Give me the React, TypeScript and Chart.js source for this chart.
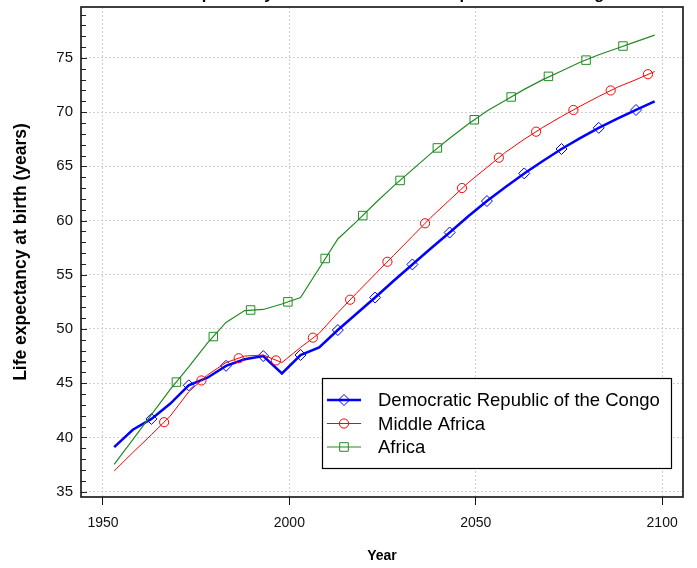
import React, { useEffect, useRef } from 'react';
import { Chart, registerables } from 'chart.js';

Chart.register(...registerables);

// ---------- data ----------
const seriesNames = ['Democratic Republic of the Congo', 'Middle Africa', 'Africa'];

const years = [
  1953, 1958, 1963, 1968, 1973, 1978, 1983, 1988, 1993, 1998,
  2003, 2008, 2013, 2018, 2023, 2028, 2033, 2038, 2043, 2048,
  2053, 2058, 2063, 2068, 2073, 2078, 2083, 2088, 2093, 2098,
];

const drcValues = [
  39.1, 40.7, 41.7, 43.1, 44.8, 45.5, 46.6, 47.2, 47.5, 45.9,
  47.6, 48.3, 49.9, 51.4, 52.9, 54.45, 55.95, 57.45, 58.9, 60.4,
  61.8, 63.1, 64.35, 65.5, 66.6, 67.6, 68.55, 69.4, 70.2, 71.0,
];

const middleAfricaValues = [
  36.9, 38.6, 40.25, 41.95, 44.2, 45.75, 46.9, 47.5, 47.6, 46.9,
  48.3, 49.6, 51.5, 53.3, 55.05, 56.8, 58.55, 60.3, 61.9, 63.5,
  64.9, 66.3, 67.5, 68.6, 69.6, 70.55, 71.45, 72.3, 73.0, 73.75,
];

const africaValues = [
  37.5, 39.8, 42.1, 44.4, 46.5, 48.7, 50.6, 51.7, 51.8, 52.3,
  52.9, 55.6, 58.3, 59.9, 61.6, 63.2, 64.7, 66.2, 67.6, 68.9,
  70.1, 71.1, 72.1, 73.0, 73.8, 74.6, 75.3, 75.9, 76.5, 77.1,
];

// marker positions (staggered along each line)
const drcMarkerYears = [1963, 1973, 1983, 1993, 2003, 2013, 2023, 2033, 2043, 2053, 2063, 2073, 2083, 2093];
const drcMarkerValues = [41.7, 44.8, 46.6, 47.5, 47.6, 49.9, 52.9, 55.95, 58.9, 61.8, 64.35, 66.6, 68.55, 70.2];

const middleAfricaMarkerYears = [1966.4, 1976.4, 1986.4, 1996.4, 2006.3, 2016.3, 2026.3, 2036.4, 2046.3, 2056.2, 2066.2, 2076.2, 2086.2, 2096.2];
const middleAfricaMarkerValues = [41.4, 45.25, 47.3, 47.1, 49.2, 52.7, 56.2, 59.75, 63.0, 65.8, 68.2, 70.2, 72.0, 73.5];

const africaMarkerYears = [1969.7, 1979.6, 1989.6, 1999.6, 2009.6, 2019.7, 2029.7, 2039.7, 2049.6, 2059.5, 2069.5, 2079.6, 2089.5];
const africaMarkerValues = [45.1, 49.3, 51.75, 52.5, 56.5, 60.46, 63.7, 66.7, 69.3, 71.4, 73.3, 74.8, 76.1];

const xTickValues = [1950, 2000, 2050, 2100];
const yTickValues = [35, 40, 45, 50, 55, 60, 65, 70, 75];

const titleText = 'Life expectancy at birth: Democratic Republic of the Congo';
const yAxisTitle = 'Life expectancy at birth (years)';
const xAxisTitle = 'Year';

// ---------- styles ----------
const FONT = '"Liberation Sans", Arial, Helvetica, sans-serif';
const colors = ['#0000FF', '#FF0000', '#228B22'];
const lineWidths = [2.5, 1, 1.2];
const markerStyles = ['rectRot', 'circle', 'rect'];
const markerRadii = [5.5, 4.6, 6];

const toPoints = (xs: number[], ys: number[]) => xs.map((x, i) => ({ x, y: ys[i] }));

function drawMarker(ctx: CanvasRenderingContext2D, kind: number, x: number, y: number) {
  ctx.beginPath();
  if (kind === 0) {
    const r = 5.5;
    ctx.moveTo(x - r, y);
    ctx.lineTo(x, y - r);
    ctx.lineTo(x + r, y);
    ctx.lineTo(x, y + r);
    ctx.closePath();
  } else if (kind === 1) {
    ctx.arc(x, y, 4.6, 0, Math.PI * 2);
  } else {
    const h = 4.3;
    ctx.rect(x - h, y - h, 2 * h, 2 * h);
  }
  ctx.stroke();
}

const framePlugin = {
  id: 'frameAndMinorTicks',
  afterDatasetsDraw(chart: any) {
    const { ctx, chartArea, scales } = chart;
    const ys = scales.y;
    ctx.save();
    // minor / major ticks inside the left axis
    ctx.strokeStyle = '#222';
    ctx.lineWidth = 1;
    for (let v = Math.ceil(ys.min); v <= Math.floor(ys.max); v++) {
      const py = Math.round(ys.getPixelForValue(v)) + 0.5;
      ctx.beginPath();
      ctx.moveTo(chartArea.left, py);
      ctx.lineTo(chartArea.left + (v % 5 === 0 ? 6 : 5), py);
      ctx.stroke();
    }
    // frame
    ctx.strokeStyle = '#111';
    ctx.lineWidth = 1.6;
    ctx.strokeRect(chartArea.left, chartArea.top, chartArea.right - chartArea.left, chartArea.bottom - chartArea.top);
    ctx.restore();
  },
  afterDraw(chart: any) {
    const { ctx, chartArea } = chart;
    ctx.save();
    // cut-off main title above the frame
    ctx.fillStyle = '#000';
    ctx.font = `bold 16.5px ${FONT}`;
    ctx.textAlign = 'center';
    ctx.textBaseline = 'alphabetic';
    ctx.fillText(titleText, (chartArea.left + chartArea.right) / 2, -1.5);

    // inset legend
    const bx = chartArea.right - 361;
    const by = chartArea.bottom - 119;
    const bw = 349;
    const bh = 90;
    ctx.fillStyle = '#fff';
    ctx.fillRect(bx, by, bw, bh);
    ctx.strokeStyle = '#000';
    ctx.lineWidth = 1.2;
    ctx.strokeRect(bx + 0.5, by + 0.5, bw, bh);
    ctx.font = `18.5px ${FONT}`;
    ctx.textAlign = 'left';
    ctx.textBaseline = 'middle';
    seriesNames.forEach((name, i) => {
      const y = by + 22 + i * 23.5;
      ctx.strokeStyle = colors[i];
      ctx.lineWidth = lineWidths[i];
      ctx.beginPath();
      ctx.moveTo(bx + 5, y);
      ctx.lineTo(bx + 39, y);
      ctx.stroke();
      ctx.lineWidth = 1;
      drawMarker(ctx, i, bx + 22, y);
      ctx.fillStyle = '#000';
      ctx.fillText(name, bx + 56, y + 1);
    });
    ctx.restore();
  },
};

export default function App() {
  const canvasRef = useRef<HTMLCanvasElement | null>(null);

  useEffect(() => {
    if (!canvasRef.current) return;
    const lineData = [drcValues, middleAfricaValues, africaValues];
    const markerData = [
      toPoints(drcMarkerYears, drcMarkerValues),
      toPoints(middleAfricaMarkerYears, middleAfricaMarkerValues),
      toPoints(africaMarkerYears, africaMarkerValues),
    ];
    const datasets: any[] = [];
    // draw Africa first, DRC last (on top)
    [2, 1, 0].forEach((i) => {
      datasets.push({
        label: seriesNames[i],
        data: toPoints(years, lineData[i]),
        borderColor: colors[i],
        borderWidth: lineWidths[i],
        pointRadius: 0,
        tension: 0,
        fill: false,
      });
      datasets.push({
        label: seriesNames[i] + ' markers',
        data: markerData[i],
        showLine: false,
        borderColor: colors[i],
        backgroundColor: 'rgba(0,0,0,0)',
        pointStyle: markerStyles[i],
        pointRadius: markerRadii[i],
        pointBorderWidth: 1,
        pointHoverRadius: markerRadii[i],
      });
    });

    const chart = new Chart(canvasRef.current, {
      type: 'line',
      data: { datasets },
      plugins: [framePlugin],
      options: {
        animation: false,
        responsive: false,
        devicePixelRatio: 1,
        layout: { padding: { top: 6, right: 14, left: 0, bottom: 0 } },
        plugins: {
          legend: { display: false },
          tooltip: { enabled: false },
          title: { display: false },
        },
        scales: {
          x: {
            type: 'linear',
            min: 1944.1,
            max: 2105.6,
            afterFit: (scale: any) => {
              scale.height = 71;
              scale.paddingLeft = 0;
              scale.paddingRight = 0;
            },
            afterBuildTicks: (scale: any) => { scale.ticks = xTickValues.map((v) => ({ value: v })); },
            ticks: {
              includeBounds: false,
              padding: 10,
              color: '#111',
              font: { family: FONT, size: 14 },
              callback: (v: any) => String(v),
            },
            grid: {
              color: '#cfcfcf',
              lineWidth: 1,
              drawTicks: true,
              tickLength: 8,
              tickColor: '#111',
              tickWidth: 1,
              tickBorderDash: [],
            },
            border: { display: false, dash: [2, 2] },
            title: {
              display: true,
              text: xAxisTitle,
              color: '#000',
              font: { family: FONT, size: 14, weight: 'bold' },
              padding: { top: 0, bottom: 3 },
            },
          },
          y: {
            type: 'linear',
            min: 34.5,
            max: 79.7,
            afterFit: (scale: any) => {
              scale.width = 81;
              scale.paddingTop = 0;
              scale.paddingBottom = 0;
            },
            afterBuildTicks: (scale: any) => { scale.ticks = yTickValues.map((v) => ({ value: v })); },
            ticks: {
              includeBounds: false,
              padding: 8,
              color: '#111',
              font: { family: FONT, size: 15 },
              callback: (v: any) => String(v),
            },
            grid: {
              color: '#cfcfcf',
              lineWidth: 1,
              drawTicks: false,
            },
            border: { display: false, dash: [2, 2] },
            title: {
              display: true,
              text: yAxisTitle,
              color: '#000',
              font: { family: FONT, size: 17.5, weight: 'bold' },
              padding: { top: 11, bottom: 0 },
            },
          },
        },
      } as any,
    });
    return () => chart.destroy();
  }, []);

  return (
    <div style={{ position: 'absolute', left: 0, top: 0, width: 697, height: 568, background: '#fff' }}>
      <canvas ref={canvasRef} width={697} height={568} style={{ display: 'block', width: 697, height: 568 }} />
    </div>
  );
}
